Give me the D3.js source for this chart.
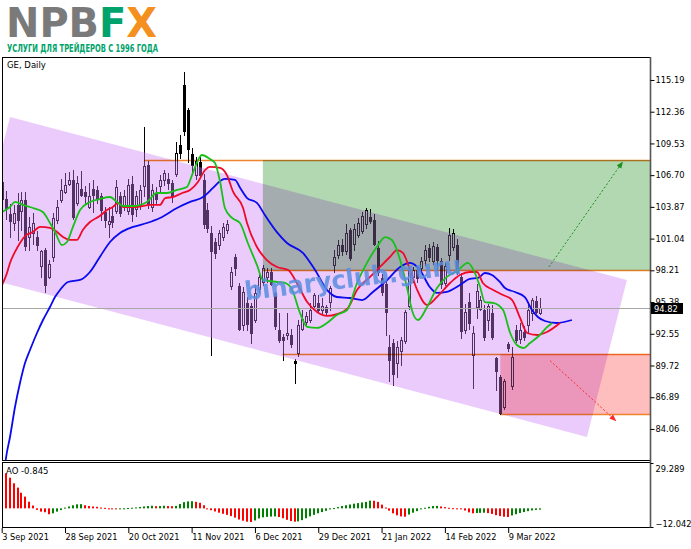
<!DOCTYPE html>
<html><head><meta charset="utf-8">
<script src="https://cdn.jsdelivr.net/npm/d3@7"></script>
<style>body{margin:0;background:#fff}svg{display:block}text{font-family:"DejaVu Sans",sans-serif}</style>
</head><body>
<svg id="c" width="691" height="549"></svg>
<script>
// ---------- DATA ----------
// daily candles [open, high, low, close], bar 0 = 3 Sep 2021
const candles = [
[106.1,106.6,103.4,104.6],[104.6,105.3,102.8,103.8],[103.2,104.1,101.2,102.6],[102.4,104.0,101.8,103.3],[104.0,105.1,100.9,102.7],
[103.5,105.2,101.8,104.5],[104.5,105.2,100.0,100.4],[101.2,103.0,100.0,102.1],[101.5,103.3,100.6,102.4],[101.2,101.7,100.0,100.5],
[98.6,100.0,97.6,99.9],[100.0,100.2,96.3,96.9],[97.6,99.1,97.5,98.8],[99.4,103.3,99.0,102.9],[102.7,104.5,102.4,103.9],
[104.5,106.4,104.3,105.4],[105.2,106.9,105.1,105.8],[105.9,107.0,105.8,106.3],[106.3,107.2,102.8,103.0],[104.2,106.6,104.0,106.0],
[105.5,107.1,104.8,104.9],[105.2,105.7,104.2,104.8],[103.9,106.0,103.8,104.8],[105.5,106.3,103.4,104.9],[105.4,105.7,104.2,104.6],
[104.8,105.1,102.7,103.6],[103.4,103.9,102.1,102.7],[102.3,103.9,101.2,102.6],[103.1,103.9,102.1,102.5],[103.5,106.3,103.3,105.6],
[104.8,105.2,103.1,103.3],[104.0,105.4,103.6,104.8],[103.5,106.4,103.2,105.8],[105.9,106.6,102.6,103.2],[103.7,105.3,103.1,104.8],
[104.0,105.8,103.7,105.4],[105.7,111.0,104.8,107.5],[107.6,108.0,103.8,104.1],[103.9,105.9,103.5,105.4],[105.0,105.6,104.2,104.6],
[105.7,106.7,105.2,106.3],[106.3,107.2,105.8,106.9],[106.4,106.9,105.5,106.0],[106.0,106.3,104.3,104.8],[106.8,109.7,106.6,108.7],
[109.4,110.3,108.2,108.7],[114.7,115.9,110.3,110.6],[112.5,112.7,107.9,109.0],[108.6,109.1,107.0,107.6],[106.7,108.3,106.4,108.0],
[107.9,108.4,106.5,106.7],[106.3,106.8,102.0,102.3],[103.6,104.2,101.6,102.0],[101.5,102.2,90.7,99.9],[100.7,101.1,99.3,99.8],
[100.5,101.8,100.1,101.5],[101.2,102.4,100.9,102.1],[101.8,102.7,101.5,102.3],[96.8,98.5,96.5,98.1],[99.4,99.7,97.8,98.4],
[96.8,97.1,92.9,93.0],[93.3,96.7,92.9,96.3],[95.3,95.8,92.9,93.4],[95.0,95.3,91.7,92.6],[93.8,96.9,93.6,96.2],
[96.5,98.1,96.3,97.6],[97.2,98.7,96.9,98.4],[97.6,98.4,97.2,98.1],[98.1,98.4,96.9,97.0],[96.2,96.3,93.0,93.2],
[92.9,94.4,91.8,92.0],[92.3,92.5,90.2,92.0],[92.4,94.4,92.1,92.6],[92.4,93.0,91.4,91.6],[90.1,90.3,88.2,89.9],
[90.8,93.8,90.6,93.3],[93.0,94.7,92.9,93.9],[93.6,94.5,93.3,94.1],[93.8,95.3,93.6,94.7],[95.0,96.2,94.7,96.0],
[95.3,96.0,94.4,94.7],[94.7,95.7,94.4,95.0],[94.9,95.1,94.2,94.5],[95.4,96.8,94.7,96.6],[98.7,100.0,98.1,99.4],
[99.6,100.9,99.3,100.5],[100.5,101.0,99.6,99.9],[99.9,102.3,99.7,101.5],[101.8,102.0,99.1,99.3],[100.6,102.3,100.0,101.9],
[101.4,102.9,101.2,102.4],[101.7,103.4,101.5,103.1],[102.3,103.8,102.0,103.6],[103.0,103.7,102.4,102.6],[102.7,103.2,100.5,100.6],
[100.2,100.8,97.8,98.1],[97.5,97.9,96.0,96.3],[97.0,97.2,92.4,94.5],[91.4,92.4,88.3,90.2],[91.7,92.1,88.0,89.0],
[89.9,91.9,88.7,91.4],[91.0,92.3,89.8,92.0],[91.9,94.7,91.7,94.5],[95.0,98.6,94.8,98.2],[97.6,98.5,97.2,98.2],
[98.2,98.6,97.2,97.5],[98.4,99.4,98.1,99.0],[99.1,100.5,98.7,100.0],[100.2,100.6,99.0,99.4],[99.0,100.7,98.8,100.4],
[100.3,100.6,98.2,99.1],[99.0,99.3,96.6,97.0],[97.1,98.9,96.9,98.6],[99.6,102.0,99.1,101.4],[100.3,101.9,100.0,101.5],
[100.5,101.0,97.9,98.1],[97.6,98.0,92.2,92.8],[92.9,95.2,92.6,94.5],[95.4,96.2,93.0,93.5],[90.7,93.2,87.7,92.6],
[94.9,97.0,94.0,96.4],[94.8,95.9,94.7,95.6],[94.7,95.1,92.0,92.3],[93.8,95.2,92.9,95.0],[94.4,95.1,92.1,92.3],
[90.4,90.5,87.5,89.2],[88.7,88.9,85.4,85.5],[86.0,88.5,85.8,88.3],[91.6,91.8,91.0,91.3],[87.9,91.4,87.6,90.5],
[92.9,93.3,91.8,92.0],[92.1,93.5,91.7,92.9],[92.7,93.2,92.0,92.3],[93.3,95.4,92.6,94.7],[94.4,95.7,93.8,95.6],
[95.5,95.9,94.4,94.5],[94.4,95.7,94.3,94.82]
];
// Awesome Oscillator, one value per bar
const aoValues = [
29.289,22.7,19.8,16.2,13.4,10.1,7.6,4.3,1.8,-1.0,-2.1,-2.5,-3.8,-3.2,-2.1,-1.1,0.5,1.2,2.0,2.6,
2.7,2.0,1.5,1.2,1.0,0.5,0.3,-0.2,-0.5,-0.6,-0.5,-0.3,0.2,0.4,0.6,0.9,1.2,1.5,1.7,1.4,
1.5,1.7,1.5,1.4,1.6,2.8,4.0,4.5,4.6,4.2,3.6,2.0,-0.3,-1.2,-2.0,-2.8,-3.5,-4.2,-5.0,-6.0,
-7.2,-8.0,-8.6,-8.8,-7.8,-6.5,-5.8,-5.5,-5.3,-5.2,-5.6,-6.4,-7.4,-8.2,-8.6,-8.4,-7.6,-6.4,-5.2,-4.2,
-3.2,-2.4,-1.6,-0.7,0.2,0.8,1.5,2.0,2.5,3.0,3.4,3.8,4.2,5.0,4.9,4.2,2.4,0.5,-1.5,-3.2,
-4.5,-5.2,-5.4,-4.0,-2.8,-1.8,-0.6,0.4,1.0,1.5,1.6,1.2,0.8,0.4,0.1,-0.2,-0.6,-1.4,-2.6,-3.2,
-3.0,-2.9,-2.8,-3.1,-3.6,-4.4,-5.0,-5.4,-5.6,-4.6,-3.8,-3.0,-2.4,-1.8,-1.3,-1.0,-0.845
];
// Alligator lines: [bar, price]
const jaw = [[0.6,80.0],[1.09,81.47],[2.1,83.34],[3.36,86.02],[4.62,88.16],[5.89,89.94],[7.15,91.10],[8.92,92.62],[10.44,93.78],[12.2,94.94],[13.47,95.83],[14.73,96.46],[16.75,97.17],[19.8,97.35],[22.3,98.06],[24.8,99.40],[27.37,100.74],[29.9,101.54],[33.2,102.08],[36.7,102.43],[40.0,102.88],[44.3,103.77],[47.6,104.31],[50.9,104.75],[53.4,105.56],[55.2,106.18],[56.4,106.36],[58.96,106.27],[60.2,105.6],[62.0,104.66],[64.5,104.22],[66.5,103.15],[69.6,101.6],[72.1,100.65],[76.1,99.76],[79.2,98.24],[82.2,96.46],[84.7,95.83],[88.0,95.74],[91.1,95.56],[93.8,96.28],[97.4,97.35],[100.7,98.51],[103.2,98.87],[105.7,98.24],[108.2,96.72],[110.0,96.19],[112.5,96.28],[115.8,96.90],[118.3,97.44],[120.4,97.53],[122.1,97.97],[123.9,97.79],[125.9,97.17],[127.2,96.63],[129.7,96.28],[132.2,95.83],[134.0,94.67],[135.5,94.05],[137.3,93.69],[140.3,93.51],[144.1,93.78]];
const teeth = [[0.08,96.90],[1.34,97.97],[2.1,98.87],[3.36,99.85],[4.62,100.65],[5.89,101.27],[7.9,101.63],[9.68,102.08],[12.2,101.99],[14.0,101.63],[15.5,101.18],[17.3,100.92],[19.0,100.92],[20.5,101.81],[22.3,102.52],[24.8,103.06],[26.6,103.59],[28.1,103.86],[29.4,104.22],[30.7,103.86],[34.2,103.86],[37.5,104.04],[40.0,104.04],[41.3,104.66],[43.3,104.75],[45.6,105.11],[47.6,105.38],[49.6,106.09],[51.4,107.16],[52.6,107.43],[55.2,107.34],[56.9,106.71],[58.5,105.20],[61.0,103.77],[62.0,102.43],[64.5,100.29],[67.0,99.13],[69.6,98.51],[72.4,98.24],[74.6,97.08],[77.2,95.38],[79.7,94.49],[82.2,94.14],[84.7,94.30],[87.5,94.85],[89.8,96.46],[93.1,97.62],[95.6,98.51],[98.1,99.40],[99.9,100.02],[101.4,99.76],[103.2,98.24],[105.0,96.46],[107.5,95.12],[110.0,95.83],[113.3,97.08],[115.8,97.79],[118.3,98.06],[120.1,98.06],[121.6,97.08],[124.2,96.46],[126.7,96.01],[129.0,95.56],[131.0,93.96],[132.8,92.62],[135.3,92.44],[137.8,92.71],[141.1,93.51]];
const lips = [[0.08,103.41],[2.1,103.86],[3.36,104.31],[5.38,104.04],[7.9,103.77],[10.4,103.41],[12.2,102.43],[13.5,101.63],[15.2,100.47],[16.5,100.74],[18.0,102.08],[19.8,103.59],[22.3,104.31],[24.8,104.57],[27.4,104.75],[29.1,104.31],[30.7,103.95],[33.2,103.95],[36.7,104.31],[39.2,105.11],[41.8,105.11],[44.3,105.38],[46.8,105.64],[48.1,106.71],[49.4,107.87],[50.6,108.50],[52.6,108.14],[53.9,107.78],[55.2,106.09],[56.4,103.77],[58.2,102.88],[60.2,102.43],[62.2,100.65],[64.5,98.69],[66.0,97.35],[69.6,97.17],[71.6,97.08],[73.4,96.46],[75.4,94.40],[77.2,93.16],[79.7,93.07],[82.2,93.51],[84.7,94.23],[87.3,94.67],[89.8,97.08],[92.3,98.87],[94.8,100.29],[96.9,101.18],[98.6,100.92],[100.7,99.13],[102.4,96.72],[103.9,94.40],[105.2,93.78],[107.5,94.94],[110.0,96.63],[112.5,97.62],[115.1,98.15],[117.8,98.87],[119.6,97.97],[120.9,96.72],[122.1,95.38],[124.2,95.30],[126.7,94.67],[128.5,92.62],[130.2,91.55],[131.8,91.28],[133.5,91.72],[136.0,92.44],[137.6,93.07],[139.1,93.51]];
const priceTicks = [115.19,112.36,109.53,106.70,103.87,101.04,98.21,95.38,92.55,89.72,86.89,84.06];
const dateTickBars = [0,16,32,48,64,80,96,112,128];
const dateLabels = ["3 Sep 2021","28 Sep 2021","20 Oct 2021","11 Nov 2021","6 Dec 2021","29 Dec 2021","21 Jan 2022","14 Feb 2022","9 Mar 2022"];
const channelCorners = [[-8.0,97.88],[2.1,111.89],[158.0,97.35],[147.9,83.35]];
const levelPrices = [108.05,98.21,90.75,85.4];
const levelStartBars = [36,66,71,126];
const greenZone = [66,98.21,108.05];   // start bar, low, high
const redZone = [126,85.4,90.75];
const upArrow = [[138.3,98.51],[156.9,107.87]];
const downArrow = [[138.6,90.15],[155.2,84.79]];
const lastPrice = 94.82;
const aoMinMax = [-12.042,29.289];
const aoLast = -0.845;

// ---------- SCALES ----------
const L=2.5, R=650.5, T=57.5, B=460.5, AT=462.5, AB=527.5;
const x = d3.scaleLinear().domain([0,136]).range([1.7,539.85]);
const y = d3.scaleLinear().domain([81.29,117.24]).range([460,57]);
const ya = d3.scaleLinear().domain(aoMinMax).range([527,463]);
const svg = d3.select("#c");
svg.append("rect").attr("width",691).attr("height",549).attr("fill","#fff");
const defs = svg.append("defs");
defs.append("clipPath").attr("id","cm").append("rect").attr("x",L).attr("y",T).attr("width",R-L).attr("height",B-T);
defs.append("clipPath").attr("id","ca").append("rect").attr("x",L).attr("y",AT).attr("width",R-L).attr("height",AB-AT);
[["ag","#1f8f1f"],["ar","#ff2a2a"]].forEach(([id,c])=>{
  defs.append("marker").attr("id",id).attr("viewBox","0 0 10 10").attr("refX",9).attr("refY",5)
   .attr("markerWidth",7).attr("markerHeight",7).attr("orient","auto")
   .append("path").attr("d","M0,1 L10,5 L0,9 Z").attr("fill",c);
});

// ---------- LOGO ----------
const logo = svg.append("text").attr("x",6).attr("y",36.5).attr("font-size",40).attr("font-weight","bold")
  .attr("textLength",151).attr("lengthAdjust","spacingAndGlyphs");
logo.append("tspan").attr("fill","#7a7a7a").text("NPB");
logo.append("tspan").attr("fill","#00a36c").text("F");
logo.append("tspan").attr("fill","#f39020").text("X");
svg.append("text").attr("x",7).attr("y",52).attr("font-size",10).attr("font-weight","bold")
  .attr("fill","#00a36c").attr("textLength",151).attr("lengthAdjust","spacingAndGlyphs")
  .style("font-family","'Liberation Sans Narrow','DejaVu Sans Condensed','Liberation Sans',sans-serif")
  .text("УСЛУГИ ДЛЯ ТРЕЙДЕРОВ С 1996 ГОДА");

// ---------- MAIN PLOT ----------
const g = svg.append("g").attr("clip-path","url(#cm)");
const cg = g.append("g");
candles.forEach((d,i)=>{
  const [o,h,l,c]=d; const cx=Math.round(x(i));
  cg.append("line").attr("x1",cx+0.5).attr("x2",cx+0.5).attr("y1",Math.round(y(h))).attr("y2",Math.round(y(l))+1)
    .attr("stroke","#000").attr("stroke-width",1);
  const t=Math.round(y(Math.max(o,c))), b=Math.round(y(Math.min(o,c)));
  cg.append("rect").attr("x",cx-0.5).attr("y",t+0.5).attr("width",2).attr("height",Math.max(0.01,b-t))
    .attr("fill",c>=o?"#fff":"#000").attr("stroke","#000").attr("stroke-width",1);
});
// channel
g.append("polygon").attr("points",channelCorners.map(p=>[x(p[0]),y(p[1])].join(",")).join(" "))
  .attr("fill","rgb(205,125,245)").attr("fill-opacity",0.4);
// zones
const xr = R;
g.append("rect").attr("x",x(greenZone[0])).attr("y",y(greenZone[2])).attr("width",xr-x(greenZone[0]))
  .attr("height",y(greenZone[1])-y(greenZone[2])).attr("fill","rgb(178,216,178)").style("mix-blend-mode","multiply");
g.append("rect").attr("x",x(redZone[0])).attr("y",y(redZone[2])).attr("width",xr-x(redZone[0]))
  .attr("height",y(redZone[1])-y(redZone[2])).attr("fill","rgb(255,190,190)").style("mix-blend-mode","multiply");
levelPrices.forEach((p,k)=>{
  g.append("line").attr("x1",x(levelStartBars[k])).attr("x2",xr).attr("y1",Math.round(y(p))+0.5).attr("y2",Math.round(y(p))+0.5)
   .attr("stroke","#f0842c").attr("stroke-width",1.6).style("mix-blend-mode","multiply");
});
// bid line
g.append("line").attr("x1",L).attr("x2",R).attr("y1",Math.round(y(lastPrice))+0.5).attr("y2",Math.round(y(lastPrice))+0.5)
  .attr("stroke","#a8a8a8").attr("stroke-width",1);
// alligator
const line = d3.line().x(d=>x(d[0])).y(d=>y(d[1])).curve(d3.curveMonotoneX);
[[jaw,"#0a0aee"],[teeth,"#f00a2a"],[lips,"#19c019"]].forEach(([data,col])=>{
  g.append("path").attr("d",line(data)).attr("fill","none").attr("stroke",col).attr("stroke-width",1.8);
});
// arrows
[[upArrow,"#1f8f1f","ag"],[downArrow,"#ff2a2a","ar"]].forEach(([a,col,m])=>{
  g.append("line").attr("x1",x(a[0][0])).attr("y1",y(a[0][1])).attr("x2",x(a[1][0])).attr("y2",y(a[1][1]))
   .attr("stroke",col).attr("stroke-width",1).attr("stroke-dasharray","2,2").attr("marker-end",`url(#${m})`);
});
// watermark
g.append("text").attr("transform","translate(354,287) rotate(-7)").attr("text-anchor","middle")
  .attr("font-size",26).attr("font-weight","bold").attr("fill","#5b8ee0").attr("fill-opacity",0.85)
  .attr("textLength",218).attr("lengthAdjust","spacingAndGlyphs").text("binaryclub.guru");
svg.append("text").attr("x",7).attr("y",68).attr("font-size",8.5).attr("fill","#000").text("GE, Daily");

// ---------- AO ----------
const ag = svg.append("g").attr("clip-path","url(#ca)");
aoValues.forEach((v,i)=>{
  const up = i===0 ? false : v>aoValues[i-1];
  const cx=Math.round(x(i));
  const y0=ya(0), y1=ya(v);
  ag.append("rect").attr("x",cx-1).attr("y",Math.min(y0,y1)).attr("width",2).attr("height",Math.max(1,Math.abs(y1-y0)))
    .attr("fill",up?"#008000":"#ff0000");
});
svg.append("text").attr("x",6).attr("y",474).attr("font-size",8.5).attr("fill","#000").text("AO "+aoLast);

// ---------- FRAMES & AXES ----------
svg.append("rect").attr("x",L).attr("y",T).attr("width",R-L).attr("height",B-T).attr("fill","none").attr("stroke","#000");
svg.append("rect").attr("x",L).attr("y",AT).attr("width",R-L).attr("height",AB-AT).attr("fill","none").attr("stroke","#000");
svg.append("line").attr("x1",650.5).attr("x2",650.5).attr("y1",57).attr("y2",528).attr("stroke","#555").attr("stroke-width",1.6);
const yAxis = d3.axisRight(y).tickValues(priceTicks).tickSize(4).tickFormat(d3.format(".2f"));
const ya_g = svg.append("g").attr("transform","translate(650.5,0)").call(yAxis);
ya_g.select(".domain").remove();
ya_g.selectAll("text").attr("x",5).attr("font-size",8.3).style("font-family","'DejaVu Sans',sans-serif").attr("fill","#000");
ya_g.selectAll("line").attr("stroke","#000");
// current price box
svg.append("rect").attr("x",651).attr("y",Math.round(y(lastPrice))-5).attr("width",32).attr("height",11).attr("fill","#000");
svg.append("text").attr("x",654).attr("y",Math.round(y(lastPrice))+3.5).attr("font-size",8.3).attr("fill","#fff").text(lastPrice.toFixed(2));
// AO scale labels
const aoAxis = d3.axisRight(ya).tickValues(aoMinMax).tickSize(3).tickFormat(d=>d3.format(".3f")(d));
const aa_g = svg.append("g").attr("transform","translate(650.5,0)").call(aoAxis);
aa_g.select(".domain").remove();
aa_g.selectAll("text").attr("x",5).attr("font-size",8.3).style("font-family","'DejaVu Sans',sans-serif").attr("fill","#000");
aa_g.selectAll(".tick").filter(d=>d===aoMinMax[1]).select("text").attr("dy","1.0em");
aa_g.selectAll(".tick").filter(d=>d===aoMinMax[0]).select("text").attr("dy","-0.1em");
// date axis
const xAxis = d3.axisBottom(x).tickValues(dateTickBars).tickSize(5).tickFormat((d,i)=>dateLabels[i]);
const xa_g = svg.append("g").attr("transform","translate(0,528)").call(xAxis);
xa_g.select(".domain").remove();
xa_g.selectAll("text").attr("text-anchor","start").attr("x",0).attr("y",6).attr("dy","0.71em")
  .attr("font-size",8.2).style("font-family","'DejaVu Sans',sans-serif").attr("fill","#000");
xa_g.selectAll("line").attr("stroke","#000");
</script>
</body></html>
